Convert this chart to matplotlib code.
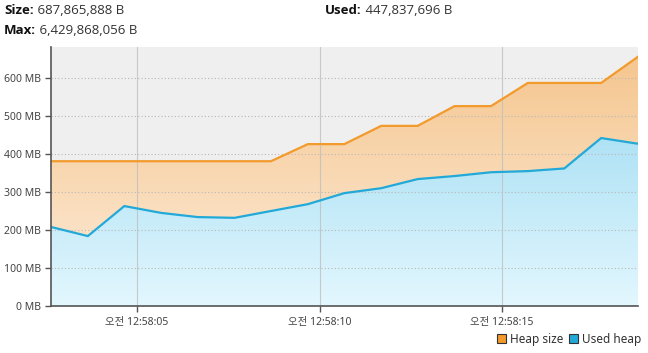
import matplotlib

matplotlib.use("Agg")
import matplotlib.pyplot as plt
import numpy as np
from matplotlib.colors import LinearSegmentedColormap
from matplotlib.patches import Patch

# sample times, seconds after 12:58:00
times = [2.64, 3.65, 4.65, 5.66, 6.66, 7.67, 8.67, 9.68, 10.68,
         11.69, 12.69, 13.70, 14.70, 15.71, 16.71, 17.72, 18.73]
heap_size_mb = [381, 381, 381, 381, 381, 381, 381, 426, 426,
                474, 474, 526, 526, 587, 587, 587, 656]
used_heap_mb = [208, 184, 263, 245, 234, 232, 250, 268, 297,
                310, 334, 342, 352, 355, 362, 442, 427]
x_ticks = [5, 10, 15]
x_tick_labels = ["오전 12:58:05", "오전 12:58:10", "오전 12:58:15"]
y_ticks = [0, 100, 200, 300, 400, 500, 600]
header = [("Size:", "687,865,888 B"), ("Used:", "447,837,696 B"), ("Max:", "6,429,868,056 B")]

FONT = ["Noto Sans", "Noto Sans CJK KR", "DejaVu Sans"]
plt.rcParams["font.family"] = FONT

ORANGE = "#f39a2c"
BLUE = "#23a9d8"
TEXT = "#444444"


def gradient_fill(ax, x, y, top_color, bottom_color, zorder):
    poly = ax.fill_between(x, 0, y, color="none", linewidth=0, zorder=zorder)
    cmap = LinearSegmentedColormap.from_list("g", [bottom_color, top_color])
    ymax = max(y)
    grad = np.linspace(0, 1, 256).reshape(-1, 1)
    im = ax.imshow(grad, cmap=cmap, aspect="auto", origin="lower",
                   extent=(x[0], x[-1], 0, ymax), zorder=zorder)
    path = poly.get_paths()[0]
    im.set_clip_path(path, transform=ax.transData)


fig = plt.figure(figsize=(6.48, 3.53), dpi=100)
ax = fig.add_axes([51 / 648, 47 / 353, 587 / 648, 259 / 353])
ax.set_facecolor("#efefef")

gradient_fill(ax, times, heap_size_mb, "#f5c68f", "#fdeddb", 1)
gradient_fill(ax, times, used_heap_mb, "#afe2f5", "#e3f7fe", 2)
ax.plot(times, heap_size_mb, color=ORANGE, lw=1.6, zorder=4, solid_joinstyle="miter")
ax.plot(times, used_heap_mb, color=BLUE, lw=1.6, zorder=4, solid_joinstyle="miter")

ax.set_xlim(times[0], times[-1])
ax.set_ylim(0, 681.6)

for yv in y_ticks[1:]:
    ax.axhline(yv, color="#b8b8b8", lw=0.8, ls=(0, (1, 2)), zorder=3)
for xv in x_ticks:
    ax.axvline(xv, color="#bfbfbf", lw=0.8, alpha=0.8, zorder=3)

ax.set_xticks(x_ticks)
ax.set_xticklabels(x_tick_labels)
ax.set_yticks(y_ticks)
ax.set_yticklabels([f"{v} MB" for v in y_ticks])
ax.tick_params(axis="both", colors="#555555", labelcolor=TEXT, labelsize=7.5,
               length=4, width=1, direction="out", pad=3)
ax.tick_params(axis="x", pad=4)

for side in ["top", "right"]:
    ax.spines[side].set_visible(False)
for side in ["left", "bottom"]:
    ax.spines[side].set_color("#555555")
    ax.spines[side].set_linewidth(1.2)
ax.spines["left"].set_zorder(5)
ax.spines["bottom"].set_zorder(5)

# header text
HEAD_FONT = ["Open Sans", "DejaVu Sans"]
positions = [(4 / 648, 1 - 11 / 353), (325 / 648, 1 - 11 / 353), (4 / 648, 1 - 31 / 353)]
for (label, value), (px, py) in zip(header, positions):
    t = fig.text(px, py, label, fontsize=9.5, fontweight="bold", color="#111111",
                 va="center", ha="left", family=HEAD_FONT)
    ax.annotate(" " + value, xy=(1, 0.5), xycoords=t, va="center", ha="left",
                fontsize=9.5, color="#333333", annotation_clip=False, family=HEAD_FONT)

handles = [Patch(facecolor=ORANGE, edgecolor="#333333", lw=0.8, label="Heap size"),
           Patch(facecolor=BLUE, edgecolor="#333333", lw=0.8, label="Used heap")]
leg = fig.legend(handles=handles, loc="center right", bbox_to_anchor=(1.0, 14 / 353),
                 ncol=2, frameon=False, fontsize=8.5, handlelength=0.75,
                 handleheight=0.75, handletextpad=0.35, columnspacing=0.5,
                 borderaxespad=0.15)
for txt in leg.get_texts():
    txt.set_color("#333333")

fig.savefig("out.png", dpi=100)
